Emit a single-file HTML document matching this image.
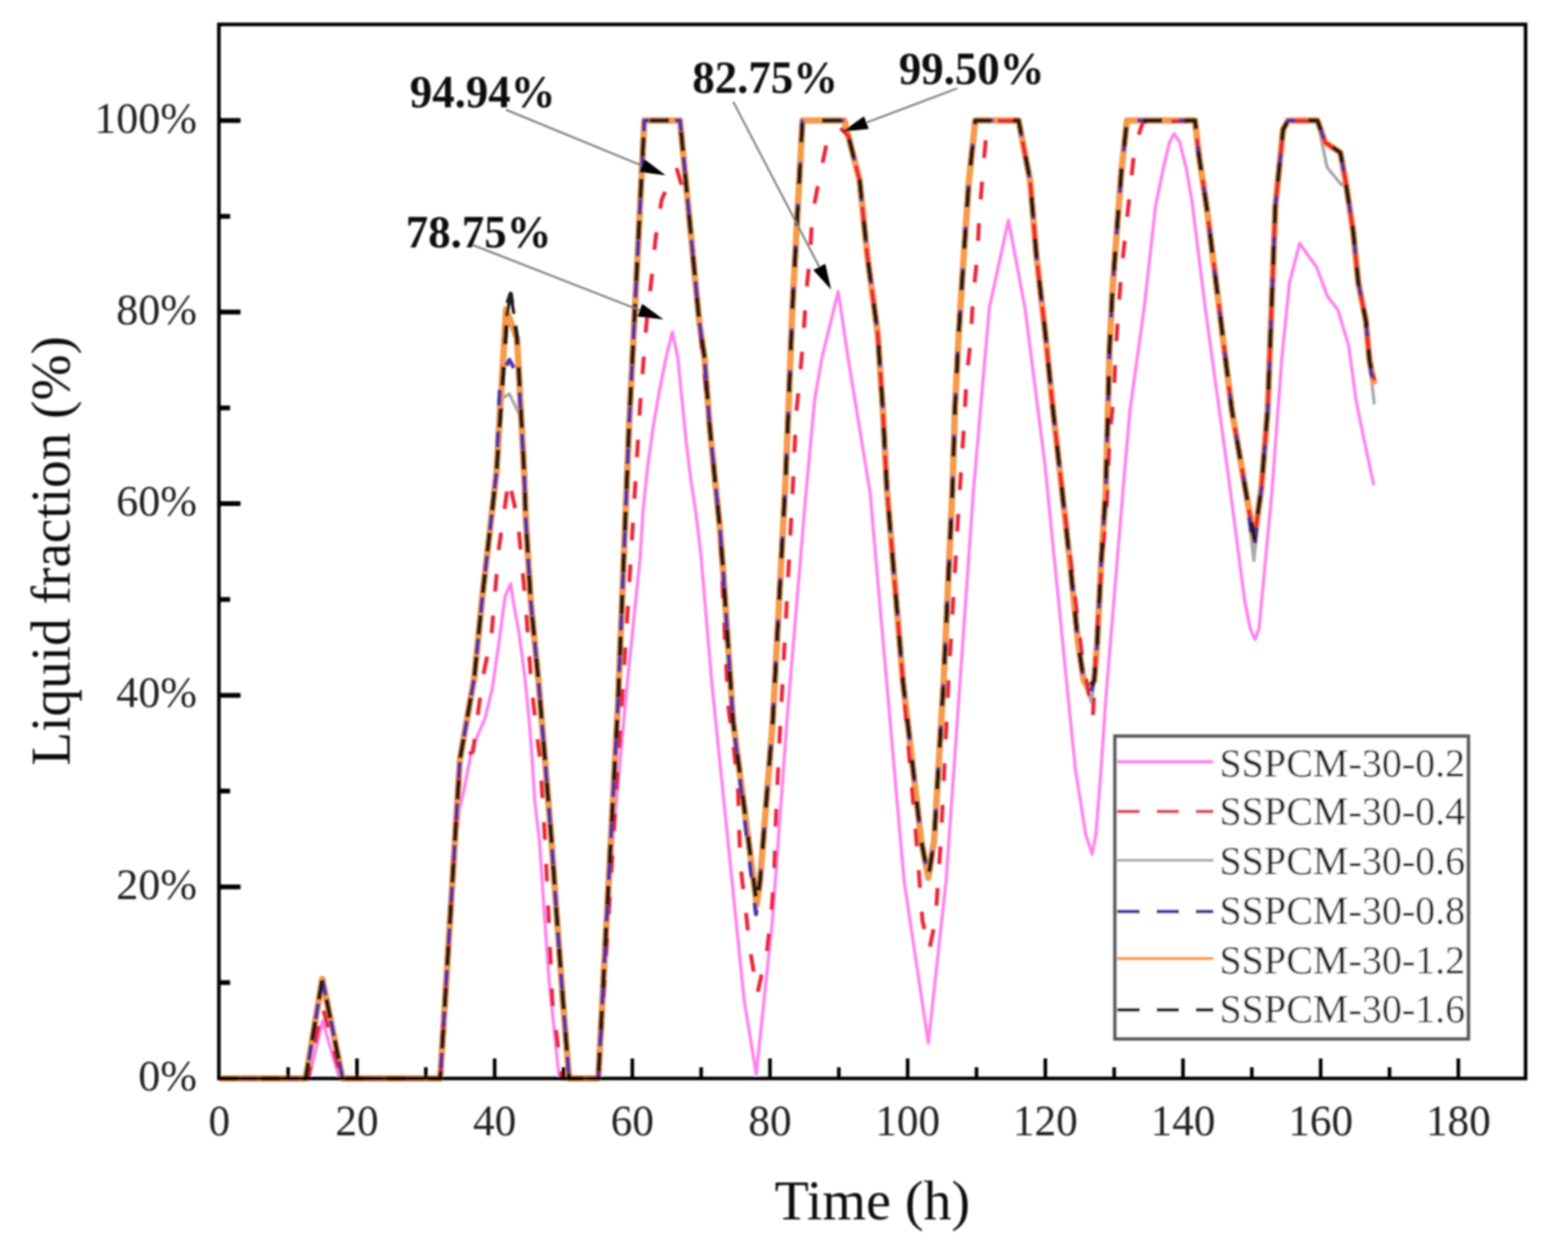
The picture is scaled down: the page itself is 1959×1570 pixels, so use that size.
<!DOCTYPE html>
<html><head><meta charset="utf-8"><title>Liquid fraction vs time</title>
<style>html,body{margin:0;padding:0;background:#fff;width:1959px;height:1570px;overflow:hidden}svg{display:block}</style>
</head><body>
<svg width="1959" height="1570" viewBox="0 0 1959 1570"><rect width="1959" height="1570" fill="#fff"/><defs><filter id="soft" x="0" y="0" width="1959" height="1570" filterUnits="userSpaceOnUse"><feGaussianBlur stdDeviation="1.2"/></filter></defs><g filter="url(#soft)"><polyline points="274.0,1347.0 386.0,1347.0 403.0,1275.0 424.0,1347.0 550.0,1347.0 566.6,1079.0 574.0,1010.0 579.0,990.0 589.7,935.0 606.0,897.0 615.0,860.0 623.0,805.0 631.0,745.0 638.0,729.0 641.0,750.0 648.5,791.0 655.6,845.0 661.0,898.0 665.0,950.0 668.0,1000.0 674.0,1050.0 680.0,1140.0 686.0,1225.0 697.0,1331.0 699.0,1347.0 747.5,1347.0 765.5,1050.0 784.0,850.0 800.0,694.0 803.2,640.0 808.7,586.0 816.2,532.0 823.8,488.0 832.5,445.0 840.0,414.7 846.6,445.0 852.0,499.0 857.4,553.0 862.8,597.0 869.3,640.0 875.8,694.0 889.0,850.0 909.4,1050.0 929.8,1250.0 944.8,1341.8 965.0,1150.0 984.0,890.0 1007.0,615.0 1017.7,500.0 1026.5,448.5 1047.2,364.0 1060.0,450.0 1087.0,615.0 1129.5,1100.0 1159.8,1302.8 1182.0,1100.0 1216.0,615.0 1236.0,384.8 1259.9,274.9 1280.6,384.8 1305.5,580.0 1315.0,675.5 1324.6,771.0 1334.0,866.6 1343.7,962.0 1356.4,1041.8 1364.4,1067.0 1369.2,1041.8 1375.5,962.0 1382.0,866.6 1389.9,771.0 1397.8,675.5 1405.8,580.0 1411.8,512.0 1429.4,384.8 1443.7,257.4 1453.0,212.0 1461.0,178.0 1467.0,167.0 1474.0,178.0 1482.0,210.0 1489.0,250.0 1505.8,384.8 1523.3,512.0 1535.4,600.0 1555.0,750.0 1562.0,785.0 1567.9,798.7 1573.0,785.0 1589.0,615.0 1601.4,448.5 1611.0,353.0 1623.7,304.0 1645.0,334.0 1658.3,369.7 1671.7,387.5 1685.0,432.0 1694.0,499.0 1703.0,543.5 1716.3,606.0" stroke="#ff80ec" stroke-width="4" fill="none" stroke-linejoin="round"/><polyline points="274.0,1347.0 382.0,1347.0 402.7,1222.7 428.0,1347.0 550.0,1347.0 566.6,1079.0 574.6,948.6 592.5,846.8 603.0,742.0 620.4,589.0 623.0,500.0 636.4,492.0 650.0,520.0 654.8,589.0 657.0,650.0 663.0,750.0 672.7,850.0 681.0,950.0 689.0,1050.0 696.0,1150.0 703.3,1250.0 711.0,1347.0 747.5,1347.0 772.0,880.0 786.0,530.0 805.0,150.5 849.6,150.5 873.6,401.7 880.0,445.0 886.6,531.6 893.0,596.6 899.6,661.6 904.0,720.0 915.8,900.0 944.5,1135.0 949.6,1100.0 965.5,900.0 981.4,600.0 985.0,512.0 990.0,384.8 996.0,273.0 1002.6,150.5 1055.0,150.5 1074.0,225.5 1083.8,321.0 1096.6,416.6 1103.0,512.0 1108.0,610.0 1128.0,850.0 1151.0,1050.0 1159.8,1096.3 1167.0,1050.0 1179.0,850.0 1190.0,610.0 1193.0,512.0 1197.8,416.6 1204.0,321.0 1210.5,225.5 1218.5,150.5 1272.6,150.5 1287.0,225.5 1295.0,321.0 1306.0,416.6 1315.6,512.0 1325.5,600.0 1337.3,707.4 1346.9,803.0 1354.0,850.0 1364.0,878.0 1367.0,850.0 1370.8,803.0 1375.5,707.4 1381.5,611.8 1384.3,509.4 1386.2,435.5 1389.9,361.6 1395.4,287.8 1401.0,214.0 1408.0,150.5 1493.0,150.5 1497.8,193.7 1507.4,257.4 1523.3,384.8 1539.0,512.0 1555.8,610.0 1566.5,700.0 1575.9,610.0 1583.8,512.0 1588.6,384.8 1593.4,257.4 1603.0,161.8 1609.3,150.5 1646.0,150.5 1658.0,209.0 1676.0,231.0 1681.0,225.5 1690.6,289.0 1697.0,353.0 1706.5,400.7 1711.0,450.0 1717.0,505.0" stroke="#a8a8a8" stroke-width="4" fill="none" stroke-linejoin="round"/><polyline points="274.0,1347.0 382.0,1347.0 402.7,1222.7 428.0,1347.0 550.0,1347.0 566.6,1079.0 574.6,948.6 592.5,846.8 603.0,742.0 620.4,589.0 632.2,386.5 646.0,423.0 654.8,589.0 657.0,650.0 663.0,750.0 672.7,850.0 681.0,950.0 689.0,1050.0 696.0,1150.0 703.3,1250.0 711.0,1347.0 747.5,1347.0 772.0,880.0 786.0,530.0 805.0,150.5 849.6,150.5 873.6,401.7 880.0,445.0 886.6,531.6 893.0,596.6 899.6,661.6 904.0,720.0 915.8,900.0 945.5,1130.0 949.6,1100.0 965.5,900.0 981.4,600.0 985.0,512.0 990.0,384.8 996.0,273.0 1002.6,150.5 1055.0,150.5 1074.0,225.5 1083.8,321.0 1096.6,416.6 1103.0,512.0 1108.0,610.0 1128.0,850.0 1151.0,1050.0 1159.8,1096.3 1167.0,1050.0 1179.0,850.0 1190.0,610.0 1193.0,512.0 1197.8,416.6 1204.0,321.0 1210.5,225.5 1218.5,150.5 1272.6,150.5 1287.0,225.5 1295.0,321.0 1306.0,416.6 1315.6,512.0 1325.5,600.0 1337.3,707.4 1346.9,803.0 1354.0,850.0 1360.0,860.0 1367.0,850.0 1370.8,803.0 1375.5,707.4 1381.5,611.8 1384.3,509.4 1386.2,435.5 1389.9,361.6 1395.4,287.8 1401.0,214.0 1408.0,150.5 1493.0,150.5 1497.8,193.7 1507.4,257.4 1523.3,384.8 1539.0,512.0 1555.8,610.0 1567.0,673.0 1575.9,610.0 1583.8,512.0 1588.6,384.8 1593.4,257.4 1603.0,161.8 1609.3,150.5 1646.0,150.5 1655.5,177.8 1674.6,190.5 1681.0,225.5 1690.6,289.0 1697.0,353.0 1706.5,400.7 1711.0,450.0 1717.0,480.0" stroke="#f79a4a" stroke-width="8" fill="none" stroke-linejoin="round"/><polyline points="274.0,1347.0 385.0,1347.0 403.0,1257.0 426.0,1347.0 550.0,1347.0 566.6,1079.0 574.6,948.6 591.0,938.9 597.5,888.0 604.0,842.0 614.0,793.6 623.0,686.6 635.6,598.8 647.0,650.0 656.7,753.6 664.0,856.7 670.0,910.0 675.0,950.0 681.0,1050.0 690.0,1250.0 702.0,1347.0 747.5,1347.0 775.7,900.0 800.0,502.0 807.5,405.0 813.9,349.0 819.0,298.0 826.6,249.7 842.0,214.0 846.0,212.0 860.0,260.0 873.6,401.7 886.6,531.6 899.6,661.6 909.6,880.0 915.7,925.9 921.8,977.9 924.9,1078.8 931.0,1130.8 937.0,1185.8 946.3,1240.9 958.5,1185.8 964.6,1130.8 967.7,1078.8 969.2,1026.8 973.8,925.9 991.0,600.0 994.6,518.5 1000.0,464.0 1004.0,416.6 1007.0,369.0 1012.0,318.0 1015.0,267.0 1025.0,216.0 1034.5,171.0 1050.0,160.0 1060.0,170.0 1074.0,225.5 1083.8,321.0 1096.6,416.6 1103.0,512.0 1108.0,610.0 1128.0,850.0 1145.0,1050.0 1152.5,1150.0 1161.0,1186.0 1168.6,1150.0 1175.5,1050.0 1185.0,850.0 1196.7,650.0 1204.8,525.0 1207.4,474.2 1212.8,423.4 1215.5,372.6 1220.8,321.8 1223.5,271.0 1227.5,220.0 1232.0,169.4 1245.0,151.0 1272.6,151.0 1287.0,225.5 1295.0,321.0 1306.0,416.6 1315.6,512.0 1325.5,600.0 1352.0,820.0 1365.4,896.0 1370.0,800.0 1377.0,694.0 1382.5,638.7 1384.3,590.7 1386.2,546.0 1391.7,491.0 1393.6,443.0 1397.3,387.5 1401.0,339.5 1406.5,287.8 1412.0,236.0 1417.6,184.0 1428.0,152.0 1493.0,151.0 1497.8,193.7 1507.4,257.4 1523.3,384.8 1539.0,512.0 1555.8,610.0 1567.0,676.0 1575.9,610.0 1583.8,512.0 1588.6,384.8 1593.4,257.4 1603.0,161.8 1609.3,151.0 1646.0,151.0 1655.5,177.8 1674.6,190.5 1681.0,225.5 1690.6,289.0 1697.0,353.0 1706.5,400.7 1711.0,450.0 1717.0,475.0" stroke="#e8283a" stroke-width="5" stroke-dasharray="22 30" fill="none" stroke-linejoin="round"/><polyline points="274.0,1347.0 382.0,1347.0 402.7,1222.7 428.0,1347.0 550.0,1347.0 566.6,1079.0 574.6,948.6 592.5,846.8 603.0,742.0 620.4,589.0 625.0,470.0 636.4,449.4 648.0,470.0 654.8,589.0 657.0,650.0 663.0,750.0 672.7,850.0 681.0,950.0 689.0,1050.0 696.0,1150.0 703.3,1250.0 711.0,1347.0 747.5,1347.0 772.0,880.0 786.0,530.0 805.0,150.5 849.6,150.5 873.6,401.7 880.0,445.0 886.6,531.6 893.0,596.6 899.6,661.6 904.0,720.0 915.8,900.0 944.5,1142.0 949.6,1100.0 965.5,900.0 981.4,600.0 985.0,512.0 990.0,384.8 996.0,273.0 1002.6,150.5 1055.0,150.5 1074.0,225.5 1083.8,321.0 1096.6,416.6 1103.0,512.0 1108.0,610.0 1128.0,850.0 1151.0,1050.0 1159.8,1096.3 1167.0,1050.0 1179.0,850.0 1190.0,610.0 1193.0,512.0 1197.8,416.6 1204.0,321.0 1210.5,225.5 1218.5,150.5 1272.6,150.5 1287.0,225.5 1295.0,321.0 1306.0,416.6 1315.6,512.0 1325.5,600.0 1337.3,707.4 1346.9,803.0 1354.0,850.0 1362.0,868.0 1367.0,850.0 1370.8,803.0 1375.5,707.4 1381.5,611.8 1384.3,509.4 1386.2,435.5 1389.9,361.6 1395.4,287.8 1401.0,214.0 1408.0,150.5 1493.0,150.5 1497.8,193.7 1507.4,257.4 1523.3,384.8 1539.0,512.0 1555.8,610.0 1566.5,688.0 1575.9,610.0 1583.8,512.0 1588.6,384.8 1593.4,257.4 1603.0,161.8 1609.3,150.5 1646.0,150.5 1655.5,177.8 1674.6,190.5 1681.0,225.5 1690.6,289.0 1697.0,353.0 1706.5,400.7 1711.0,450.0 1715.0,478.0" stroke="#4a35a8" stroke-width="5" stroke-dasharray="20 32" stroke-dashoffset="-27" fill="none" stroke-linejoin="round"/><polyline points="274.0,1347.0 382.0,1347.0 402.7,1222.7 428.0,1347.0 550.0,1347.0 566.6,1079.0 574.6,948.6 592.5,846.8 603.0,742.0 620.4,589.0 634.5,378.0 638.0,367.0 646.0,423.0 654.8,589.0 657.0,650.0 663.0,750.0 672.7,850.0 681.0,950.0 689.0,1050.0 696.0,1150.0 703.3,1250.0 711.0,1347.0 747.5,1347.0 772.0,880.0 786.0,530.0 805.0,150.5 849.6,150.5 873.6,401.7 880.0,445.0 886.6,531.6 893.0,596.6 899.6,661.6 904.0,720.0 915.8,900.0 945.5,1130.0 949.6,1100.0 965.5,900.0 981.4,600.0 985.0,512.0 990.0,384.8 996.0,273.0 1002.6,150.5 1055.0,150.5 1074.0,225.5 1083.8,321.0 1096.6,416.6 1103.0,512.0 1108.0,610.0 1128.0,850.0 1151.0,1050.0 1159.8,1096.3 1167.0,1050.0 1179.0,850.0 1190.0,610.0 1193.0,512.0 1197.8,416.6 1204.0,321.0 1210.5,225.5 1218.5,150.5 1272.6,150.5 1287.0,225.5 1295.0,321.0 1306.0,416.6 1315.6,512.0 1325.5,600.0 1337.3,707.4 1346.9,803.0 1354.0,850.0 1360.0,860.0 1367.0,850.0 1370.8,803.0 1375.5,707.4 1381.5,611.8 1384.3,509.4 1386.2,435.5 1389.9,361.6 1395.4,287.8 1401.0,214.0 1408.0,150.5 1493.0,150.5 1497.8,193.7 1507.4,257.4 1523.3,384.8 1539.0,512.0 1555.8,610.0 1567.0,673.0 1575.9,610.0 1583.8,512.0 1588.6,384.8 1593.4,257.4 1603.0,161.8 1609.3,150.5 1646.0,150.5 1655.5,177.8 1674.6,190.5 1681.0,225.5 1690.6,289.0 1697.0,353.0 1706.5,400.7 1711.0,450.0 1717.0,480.0" stroke="#221a1a" stroke-width="5.5" stroke-dasharray="24 28" fill="none" stroke-linejoin="round"/><polyline points="633,395 638,367 642,392" stroke="#221a1a" stroke-width="4" fill="none" stroke-linejoin="round"/><line x1="632" y1="137" x2="802.1" y2="206.8" stroke="#808080" stroke-width="2.5"/><polygon points="831.7,219 798.9,214.7 805.3,199.0" fill="#000"/><line x1="588" y1="305" x2="799.2" y2="387.4" stroke="#808080" stroke-width="2.5"/><polygon points="829,399 796.1,395.3 802.3,379.5" fill="#000"/><line x1="916" y1="127" x2="1023.6" y2="333.3" stroke="#808080" stroke-width="2.5"/><polygon points="1038.4,361.7 1016.1,337.3 1031.1,329.4" fill="#000"/><line x1="1195.8" y1="110.4" x2="1082.4" y2="153.1" stroke="#808080" stroke-width="2.5"/><polygon points="1052.5,164.4 1079.4,145.2 1085.4,161.1" fill="#000"/><rect x="273.5" y="30.5" width="1632.5" height="1316.5" fill="none" stroke="#000" stroke-width="4.5"/><path d="M360.0,1347V1333M446.0,1347V1322M532.0,1347V1333M618.0,1347V1322M704.0,1347V1333M790.0,1347V1322M876.0,1347V1333M962.0,1347V1322M1048.0,1347V1333M1134.0,1347V1322M1220.0,1347V1333M1306.0,1347V1322M1392.0,1347V1333M1478.0,1347V1322M1564.0,1347V1333M1650.0,1347V1322M1736.0,1347V1333M1822.0,1347V1322" stroke="#000" stroke-width="4.5" fill="none"/><path d="M273.5,1227.3H287.5M273.5,1107.7H300.5M273.5,988.0H287.5M273.5,868.4H300.5M273.5,748.8H287.5M273.5,629.1H300.5M273.5,509.5H287.5M273.5,389.8H300.5M273.5,270.2H287.5M273.5,150.5H300.5" stroke="#000" stroke-width="6" fill="none"/><text x="246" y="1362.0" font-family="Liberation Serif, Times New Roman, serif" font-size="55" text-anchor="end" fill="#222">0%</text><text x="246" y="1122.7" font-family="Liberation Serif, Times New Roman, serif" font-size="55" text-anchor="end" fill="#222">20%</text><text x="246" y="883.4" font-family="Liberation Serif, Times New Roman, serif" font-size="55" text-anchor="end" fill="#222">40%</text><text x="246" y="644.1" font-family="Liberation Serif, Times New Roman, serif" font-size="55" text-anchor="end" fill="#222">60%</text><text x="246" y="404.8" font-family="Liberation Serif, Times New Roman, serif" font-size="55" text-anchor="end" fill="#222">80%</text><text x="246" y="165.5" font-family="Liberation Serif, Times New Roman, serif" font-size="55" text-anchor="end" fill="#222">100%</text><text x="274.0" y="1418" font-family="Liberation Serif, Times New Roman, serif" font-size="54" text-anchor="middle" fill="#222">0</text><text x="446.0" y="1418" font-family="Liberation Serif, Times New Roman, serif" font-size="54" text-anchor="middle" fill="#222">20</text><text x="618.0" y="1418" font-family="Liberation Serif, Times New Roman, serif" font-size="54" text-anchor="middle" fill="#222">40</text><text x="790.0" y="1418" font-family="Liberation Serif, Times New Roman, serif" font-size="54" text-anchor="middle" fill="#222">60</text><text x="962.0" y="1418" font-family="Liberation Serif, Times New Roman, serif" font-size="54" text-anchor="middle" fill="#222">80</text><text x="1134.0" y="1418" font-family="Liberation Serif, Times New Roman, serif" font-size="54" text-anchor="middle" fill="#222">100</text><text x="1306.0" y="1418" font-family="Liberation Serif, Times New Roman, serif" font-size="54" text-anchor="middle" fill="#222">120</text><text x="1478.0" y="1418" font-family="Liberation Serif, Times New Roman, serif" font-size="54" text-anchor="middle" fill="#222">140</text><text x="1650.0" y="1418" font-family="Liberation Serif, Times New Roman, serif" font-size="54" text-anchor="middle" fill="#222">160</text><text x="1822.0" y="1418" font-family="Liberation Serif, Times New Roman, serif" font-size="54" text-anchor="middle" fill="#222">180</text><text x="1090" y="1523" font-family="Liberation Serif, Times New Roman, serif" font-size="70" text-anchor="middle" fill="#111">Time (h)</text><text transform="translate(87,688) rotate(-90)" font-family="Liberation Serif, Times New Roman, serif" font-size="69" text-anchor="middle" fill="#111">Liquid fraction (%)</text><text x="512" y="134" font-family="Liberation Serif, Times New Roman, serif" font-size="56" font-weight="bold" fill="#111">94.94%</text><text x="507" y="309" font-family="Liberation Serif, Times New Roman, serif" font-size="56" font-weight="bold" fill="#111">78.75%</text><text x="865" y="116" font-family="Liberation Serif, Times New Roman, serif" font-size="56" font-weight="bold" fill="#111">82.75%</text><text x="1123" y="105" font-family="Liberation Serif, Times New Roman, serif" font-size="56" font-weight="bold" fill="#111">99.50%</text><rect x="1393" y="919.5" width="441.5" height="378" fill="#fff" stroke="#5a5a5a" stroke-width="4.5"/><line x1="1396" y1="951.5" x2="1516" y2="951.5" stroke="#ff80ec" stroke-width="4.5"/><text x="1523.5" y="969.9" font-family="Liberation Serif, Times New Roman, serif" font-size="50" fill="#222">SSPCM-30-0.2</text><line x1="1396" y1="1013.5" x2="1516" y2="1013.5" stroke="#e8283a" stroke-width="4" stroke-dasharray="28 21"/><text x="1523.5" y="1030" font-family="Liberation Serif, Times New Roman, serif" font-size="50" fill="#222">SSPCM-30-0.4</text><line x1="1396" y1="1074.4" x2="1516" y2="1074.4" stroke="#a8a8a8" stroke-width="3.5"/><text x="1523.5" y="1092.2" font-family="Liberation Serif, Times New Roman, serif" font-size="50" fill="#222">SSPCM-30-0.6</text><line x1="1396" y1="1138.4" x2="1516" y2="1138.4" stroke="#3a2e9e" stroke-width="4.5" stroke-dasharray="28 21"/><text x="1523.5" y="1153.5" font-family="Liberation Serif, Times New Roman, serif" font-size="50" fill="#222">SSPCM-30-0.8</text><line x1="1396" y1="1197.2" x2="1516" y2="1197.2" stroke="#f79a4a" stroke-width="4"/><text x="1523.5" y="1215.9" font-family="Liberation Serif, Times New Roman, serif" font-size="50" fill="#222">SSPCM-30-1.2</text><line x1="1396" y1="1261.2" x2="1516" y2="1261.2" stroke="#1a1a1a" stroke-width="4.5" stroke-dasharray="28 21"/><text x="1523.5" y="1277" font-family="Liberation Serif, Times New Roman, serif" font-size="50" fill="#222">SSPCM-30-1.6</text></g></svg>
</body></html>
